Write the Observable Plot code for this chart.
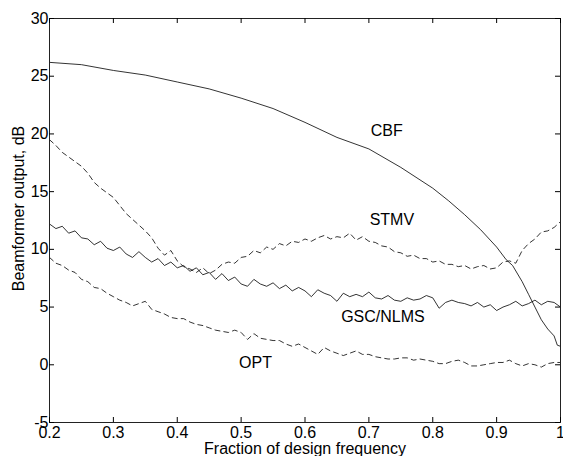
<!DOCTYPE html>
<html><head><meta charset="utf-8">
<script src="https://cdn.jsdelivr.net/npm/d3@7"></script>
<script src="https://cdn.jsdelivr.net/npm/@observablehq/plot@0.6"></script>
<style>body{margin:0;background:#fff}</style>
</head><body><div id="chart"></div>
<script>
// Fraction of design frequency (sampling grid of the noisy curves)
const freq = [0.20,0.21,0.22,0.23,0.24,0.25,0.26,0.27,0.28,0.29,
  0.30,0.31,0.32,0.33,0.34,0.35,0.36,0.37,0.38,0.39,
  0.40,0.41,0.42,0.43,0.44,0.45,0.46,0.47,0.48,0.49,
  0.50,0.51,0.52,0.53,0.54,0.55,0.56,0.57,0.58,0.59,
  0.60,0.61,0.62,0.63,0.64,0.65,0.66,0.67,0.68,0.69,
  0.70,0.71,0.72,0.73,0.74,0.75,0.76,0.77,0.78,0.79,
  0.80,0.81,0.82,0.83,0.84,0.85,0.86,0.87,0.88,0.89,
  0.90,0.91,0.92,0.93,0.94,0.95,0.96,0.97,0.98,0.99,1.00];

// CBF (smooth)
const cbfFreq = [0.2,0.25,0.3,0.35,0.4,0.45,0.5,0.55,0.6,0.65,0.7,0.75,0.8,0.825,0.85,0.875,0.9,0.915,0.925,0.94,0.95,0.96,0.97,0.98,0.99,0.995,1.0];
const cbf     = [26.2,26.0,25.5,25.1,24.5,23.9,23.1,22.2,21.0,19.7,18.7,17.1,15.3,14.2,13.0,11.7,10.2,9.1,8.6,7.2,6.1,5.0,3.9,3.1,2.5,1.7,1.6];

// GSC/NLMS (solid, noisy); starts with a near-vertical drop at 0.2
const gscOnset = 24.1;
const gsc = [12.2,11.8,12.0,11.4,11.6,11.0,10.9,10.4,10.7,10.1,
  9.9,10.2,9.6,9.3,9.8,9.3,8.9,9.2,8.6,8.9,
  8.4,8.6,8.1,8.4,7.8,8.0,7.4,7.9,7.3,7.6,
  7.0,6.8,7.4,7.0,6.8,7.1,6.6,6.9,6.4,6.7,
  6.4,5.9,6.5,6.2,6.0,5.5,6.2,5.9,6.1,5.9,
  6.3,5.8,5.7,6.0,5.6,5.5,5.8,5.6,5.7,6.0,
  5.8,4.9,5.4,5.6,5.4,5.3,5.1,5.4,5.0,5.2,
  4.7,5.0,5.2,5.5,5.1,5.3,5.6,5.2,5.5,5.4,5.0];

// STMV (dashed)
const stmv = [19.5,19.0,18.4,18.0,17.6,17.2,16.6,15.8,15.3,14.9,
  14.5,13.8,13.1,12.6,12.1,11.6,11.0,10.1,9.5,9.9,
  9.0,8.5,8.3,8.0,8.4,7.9,8.2,8.7,8.9,8.8,
  9.3,9.4,9.9,9.7,10.2,10.0,10.5,10.3,10.7,10.6,
  10.9,10.7,11.0,11.2,10.9,11.1,11.0,11.4,10.8,11.1,
  10.7,10.6,10.3,10.2,9.8,9.7,9.4,9.5,9.2,9.2,
  8.9,9.0,8.7,8.7,8.5,8.6,8.3,8.5,8.6,8.3,
  8.4,8.9,9.0,8.8,9.9,10.5,10.9,11.5,11.6,11.9,12.4];

// OPT (dashed)
const opt = [9.3,8.8,8.6,8.2,8.0,7.4,7.2,6.7,6.6,6.2,
  5.9,5.6,5.4,5.1,5.3,5.5,4.8,4.6,4.4,4.1,
  4.0,4.0,3.7,3.5,3.4,3.2,3.0,2.9,2.8,3.0,
  2.8,2.2,2.7,2.3,2.2,2.1,2.1,1.8,1.6,1.8,
  1.5,1.2,0.9,1.5,1.2,1.0,0.8,1.0,1.2,0.9,
  0.9,0.7,0.6,0.5,0.5,0.6,0.6,0.4,0.5,0.4,
  0.3,0.1,0.1,0.3,0.4,0.2,-0.1,-0.1,0.0,0.1,
  0.2,0.2,0.4,0.1,-0.1,0.1,0.0,-0.2,0.1,0.2,0.2];

const xTicks = [0.2,0.3,0.4,0.5,0.6,0.7,0.8,0.9,1];
const yTicks = [-5,0,5,10,15,20,25,30];
const xLabel = "Fraction of design frequency";
const yLabel = "Beamformer output, dB";

const labelNames = ["CBF","STMV","GSC/NLMS","OPT"];
const labelFreq  = [0.728,0.736,0.722,0.5225];
const labelDb    = [20.3,12.56,4.16,0.13];

const cbfData  = cbfFreq.map((f,i)=>({f, v: cbf[i]}));
const gscData  = [{f: freq[0], v: gscOnset}, ...freq.map((f,i)=>({f, v: gsc[i]}))];
const stmvData = freq.map((f,i)=>({f, v: stmv[i]}));
const optData  = freq.map((f,i)=>({f, v: opt[i]}));
const labels   = labelNames.map((t,i)=>({t, f: labelFreq[i], v: labelDb[i]}));
const xTickMarks = xTicks.map(v => ({v}));
const yTickMarks = yTicks.map(v => ({v}));
const xTickText  = xTicks.map(v => ({v, s: String(v)}));
const yTickText  = yTicks.map(v => ({v, s: String(v)}));

// layout
const W = 563, H = 456, mL = 49, mR = 3, mT = 18, mB = 34, tickLen = 5;
const xDom = [0.2, 1], yDom = [-5, 30];
const frameW = W - mL - mR, frameH = H - mT - mB;
// tick length expressed in each scale's units
const tickLenX = tickLen * (xDom[1] - xDom[0]) / frameW;
const tickLenY = tickLen * (yDom[1] - yDom[0]) / frameH;
const tk = {stroke: "#000", strokeWidth: 1};

const chart = Plot.plot({
  width: W, height: H,
  marginLeft: mL, marginRight: mR, marginTop: mT, marginBottom: mB,
  x: {domain: xDom, axis: null},
  y: {domain: yDom, axis: null},
  style: {fontFamily: "'Liberation Sans', Arial, Helvetica, sans-serif", fontSize: "16px", color: "black", background: "white"},
  marks: [
    Plot.line(cbfData,  {x: "f", y: "v", stroke: "black", strokeWidth: 0.8}),
    Plot.line(gscData,  {x: "f", y: "v", stroke: "black", strokeWidth: 0.8}),
    Plot.line(stmvData, {x: "f", y: "v", stroke: "black", strokeWidth: 0.8, strokeDasharray: "5,4"}),
    Plot.line(optData,  {x: "f", y: "v", stroke: "black", strokeWidth: 0.8, strokeDasharray: "5,4"}),
    Plot.frame({stroke: "#222", strokeWidth: 1}),
    Plot.text(xTickText, {x: "v", frameAnchor: "bottom", lineAnchor: "middle", dy: 10, text: "s", fill: "black"}),
    Plot.text(yTickText, {y: "v", frameAnchor: "left", textAnchor: "end", lineAnchor: "middle", dx: -1, text: "s", fill: "black"}),
    Plot.text([xLabel], {frameAnchor: "bottom", textAnchor: "middle", lineAnchor: "middle", dy: 26, text: d => d, fill: "black"}),
    Plot.text([yLabel], {frameAnchor: "left", textAnchor: "middle", lineAnchor: "middle", dx: -31, dy: -12, rotate: -90, text: d => d, fill: "black"}),
    Plot.text(labels, {x: "f", y: "v", text: "t", fill: "black"}),
    // inward ticks on all four sides, as short rules in data space
    Plot.ruleX(xTickMarks, {x: "v", y1: yDom[0], y2: yDom[0] + tickLenY, ...tk}),
    Plot.ruleX(xTickMarks, {x: "v", y1: yDom[1] - tickLenY, y2: yDom[1], ...tk}),
    Plot.ruleY(yTickMarks, {y: "v", x1: xDom[0], x2: xDom[0] + tickLenX, ...tk}),
    Plot.ruleY(yTickMarks, {y: "v", x1: xDom[1] - tickLenX, x2: xDom[1], ...tk})
  ]
});
document.getElementById("chart").append(chart);
</script>
</body></html>
